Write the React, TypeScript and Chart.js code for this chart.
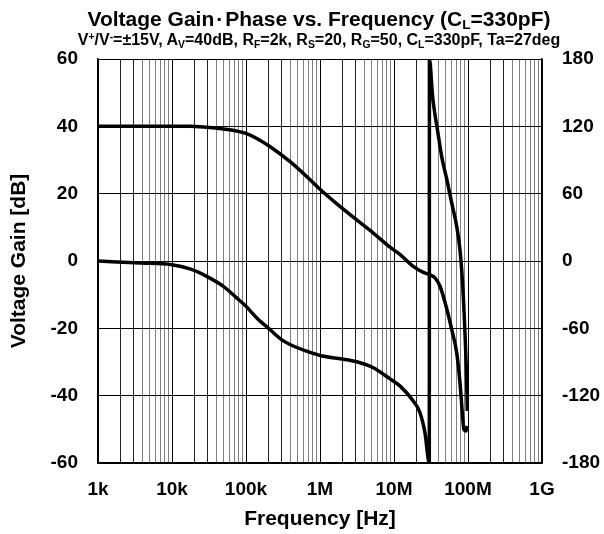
import React, { useEffect, useRef } from "react";
import { Chart, registerables } from "chart.js";

Chart.register(...registerables);

const gainFreq = [1e3, 1e4, 1.75e4, 2.94e4, 4.94e4, 7.48e4, 1e5, 1.4e5, 2.1e5, 3.94e5, 6.61e5, 1e6, 1.86e6, 3.13e6, 5.25e6, 8.83e6, 1.21e7, 1.82e7, 2.49e7, 3.07e7, 3.58e7, 4.19e7, 5.19e7, 6.03e7, 7.04e7, 7.79e7, 8.44e7, 8.79e7, 9.4e7, 9.78e7];
const gainDb = [40, 40, 40, 39.7, 39.2, 38.6, 37.9, 36.4, 34, 29.5, 25.1, 21.3, 16.2, 12.2, 8.3, 4.1, 1.9, -1.6, -3.4, -4.1, -5.0, -7.5, -14.4, -20.4, -27.3, -36.1, -46, -50, -50.5, -49];

const phaseFreq = [1e3, 3.7e3, 1e4, 1.75e4, 2.94e4, 4.94e4, 7.48e4, 1e5, 1.4e5, 2.1e5, 3.02e5, 3.94e5, 6.61e5, 1e6, 1.86e6, 3.13e6, 5.25e6, 8.83e6, 1.21e7, 1.82e7, 2.24e7, 2.62e7, 3.0e7, 3.01e7, 3.33e7, 3.93e7, 4.41e7, 5.19e7, 6.03e7, 7.04e7, 7.79e7, 8.44e7, 9.1e7, 9.6e7, 9.78e7];
const phaseDeg = [0, -1.8, -3.3, -7.1, -13.7, -22.6, -32.9, -40.3, -50.7, -61, -70, -74.4, -80.4, -84.2, -87.1, -89.8, -95.1, -105, -111.5, -124.8, -135, -153, -180, 180, 146, 113.8, 93, 72.3, 51.6, 30.8, 10, -19.6, -64, -108, -133.7];

const freqTickValues = [1e3, 1e4, 1e5, 1e6, 1e7, 1e8, 1e9];
const freqTickLabels = ["1k", "10k", "100k", "1M", "10M", "100M", "1G"];

const FONT = "'Liberation Sans', Arial, sans-serif";

export default function App() {
  const ref = useRef<HTMLCanvasElement>(null);
  useEffect(() => {
    const canvas = ref.current!;
    const chart = new Chart(canvas, {
      type: "line",
      data: {
        datasets: [
          {
            label: "Gain",
            data: gainFreq.map((f, i) => ({ x: f, y: gainDb[i] })),
            yAxisID: "y",
            borderColor: "#000",
            borderWidth: 3.5,
            pointRadius: 0,
            cubicInterpolationMode: "monotone",
            fill: false,
          },
          {
            label: "Phase",
            data: phaseFreq.map((f, i) => ({ x: f, y: phaseDeg[i] })),
            yAxisID: "y1",
            borderColor: "#000",
            borderWidth: 3.5,
            pointRadius: 0,
            cubicInterpolationMode: "monotone",
            fill: false,
          },
        ],
      },
      options: {
        responsive: false,
        animation: false,
        layout: { padding: { top: 59, left: 0, right: 0, bottom: 0 } },
        plugins: { legend: { display: false }, tooltip: { enabled: false }, title: { display: false } },
        scales: {
          x: {
            type: "logarithmic",
            min: 1e3,
            max: 1e9,
            afterBuildTicks: (scale: any) => {
              const t: any[] = [];
              for (let e = 3; e < 9; e++) {
                for (let m = 1; m <= 9; m++) t.push({ value: m * Math.pow(10, e) });
              }
              t.push({ value: 1e9 });
              scale.ticks = t;
            },
            afterFit: (scale: any) => {
              scale.height = 71;
            },
            ticks: {
              autoSkip: false,
              maxRotation: 0,
              padding: 15,
              color: "#000",
              font: { family: FONT, size: 19, weight: "bold" },
              callback: (v: any) => {
                const idx = freqTickValues.findIndex((f) => Math.abs(f - Number(v)) / f < 1e-6);
                return idx >= 0 ? freqTickLabels[idx] : "";
              },
            },
            grid: {
              drawTicks: false,
              lineWidth: 1,
              color: (ctx: any) => {
                const v = ctx.tick ? ctx.tick.value : 1;
                const m = Math.round(v / Math.pow(10, Math.floor(Math.log10(v) + 1e-9)));
                if (m === 1) return "#000";
                if (m <= 3) return "#222";
                return "#808080";
              },
            },
            border: { color: "#000", width: 1.5 },
            title: {
              display: true,
              text: "Frequency [Hz]",
              color: "#000",
              font: { family: FONT, size: 21, weight: "bold" },
              padding: { top: 0, bottom: 2 },
            },
          },
          y: {
            type: "linear",
            position: "left",
            min: -60,
            max: 60,
            afterFit: (scale: any) => {
              scale.width = 98;
            },
            ticks: {
              stepSize: 20,
              padding: 20,
              color: "#000",
              font: { family: FONT, size: 19, weight: "bold" },
            },
            grid: { drawTicks: false, color: "#000", lineWidth: 1 },
            border: { color: "#000", width: 1.5 },
            title: {
              display: true,
              text: "Voltage Gain [dB]",
              color: "#000",
              font: { family: FONT, size: 21, weight: "bold" },
              padding: { top: 6.5, bottom: 0 },
            },
          },
          y1: {
            type: "linear",
            position: "right",
            min: -180,
            max: 180,
            afterFit: (scale: any) => {
              scale.width = 62;
            },
            ticks: {
              stepSize: 60,
              padding: 20,
              color: "#000",
              font: { family: FONT, size: 19, weight: "bold" },
            },
            grid: { display: false, drawTicks: false },
            border: { color: "#000", width: 1.5 },
          },
        },
      },
    });
    return () => chart.destroy();
  }, []);

  const sub = (t: string) => (
    <span style={{ fontSize: "0.65em", verticalAlign: "-0.25em", lineHeight: 0 }}>{t}</span>
  );
  const sup = (t: string) => (
    <span style={{ fontSize: "0.65em", verticalAlign: "0.45em", lineHeight: 0 }}>{t}</span>
  );

  return (
    <div style={{ position: "absolute", left: 0, top: 0, width: 604, height: 534, background: "#fff" }}>
      <canvas ref={ref} width={604} height={534} style={{ position: "absolute", left: 0, top: 0 }} />
      <div
        style={{
          position: "absolute",
          left: 0,
          width: 638,
          top: 8.2,
          textAlign: "center",
          fontFamily: FONT,
          fontWeight: "bold",
          fontSize: 21,
          lineHeight: "21px",
          whiteSpace: "nowrap",
          color: "#000",
        }}
      >
        Voltage Gain<span style={{ padding: "0 2px" }}>·</span>Phase vs. Frequency (C{sub("L")}=330pF)
      </div>
      <div
        style={{
          position: "absolute",
          left: 0,
          width: 638,
          top: 31.5,
          textAlign: "center",
          fontFamily: FONT,
          fontWeight: "bold",
          fontSize: 16,
          lineHeight: "16px",
          whiteSpace: "nowrap",
          color: "#000",
        }}
      >
        V{sup("+")}/V{sup("-")}=±15V, A{sub("V")}=40dB, R{sub("F")}=2k, R{sub("S")}=20, R{sub("G")}=50, C{sub("L")}=330pF, Ta=27deg
      </div>
    </div>
  );
}
